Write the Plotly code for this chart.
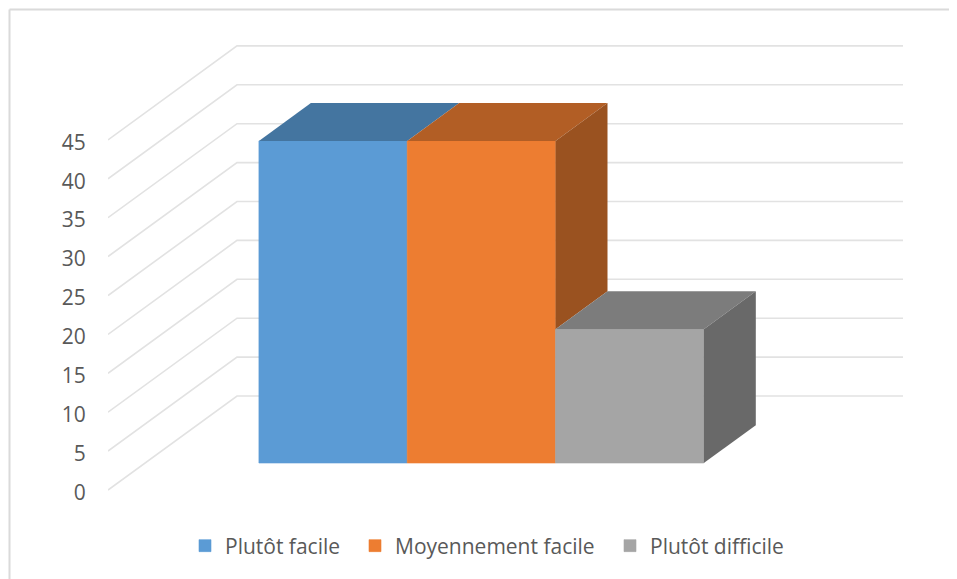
import plotly.graph_objects as go

categories = ["Plutôt facile", "Moyennement facile", "Plutôt difficile"]
values = [41.4, 41.4, 17.2]
front_colors = ["#5B9BD5", "#ED7D31", "#A5A5A5"]
top_colors = ["#4475A0", "#B25E25", "#7C7C7C"]
side_colors = ["#335A80", "#9A5220", "#696969"]
tick_values = [0, 5, 10, 15, 20, 25, 30, 35, 40, 45]

# Oblique projection of the 3D box: depth (0 front .. 1 back)
PX_W, PX_H = 795, 453           # plot area in pixels
PX_BELOW_ZERO = 8               # plot area below value 0
BAR_UNIT = 148.3                # pixels per category
VAL_UNIT = 7.78                 # pixels per value unit
XMAX = PX_W / BAR_UNIT
YMIN = -PX_BELOW_ZERO / VAL_UNIT
YMAX = YMIN + PX_H / VAL_UNIT
DX = 129 / BAR_UNIT
DY = 94 / VAL_UNIT
D0, D1 = 0.287, 0.69            # bar's front and back depth
X_START = 0.768
PAGE_OFFSET = 8                 # browser's default body margin
LABEL_SHIFT = 2.4 / VAL_UNIT    # tick labels sit slightly below the wall lines


def proj(x, v, d):
    return x + d * DX, v + d * DY


fig = go.Figure()

# empty trace that keeps the tick-label axis alive
fig.add_trace(go.Scatter(x=[None], y=[None], mode="lines", hoverinfo="skip", showlegend=False,
                         xaxis="x", yaxis="y"))

# gridlines on the side wall and back wall
gx, gy = [], []
for t in tick_values:
    a = proj(0, t, 0)
    b = proj(0, t, 1)
    gx += [a[0], b[0], XMAX, None]
    gy += [a[1], b[1], b[1], None]
fig.add_trace(go.Scatter(x=gx, y=gy, mode="lines", line=dict(color="#E2E2E2", width=1.6),
                         hoverinfo="skip", showlegend=False, xaxis="x2", yaxis="y2"))

legend_ids = ["legend", "legend2", "legend3"]
for i, (c, v) in enumerate(zip(categories, values)):
    x0, x1 = X_START + i, X_START + i + 1
    fx0 = proj(x0, 0, D0)[0]
    base = proj(x0, 0, D0)[1]
    fig.add_trace(go.Bar(x=[fx0 + 0.5], y=[v], base=[base], width=[1], name=c,
                         marker=dict(color=front_colors[i], line=dict(width=0.6, color=front_colors[i])),
                         xaxis="x3", yaxis="y3", legend=legend_ids[i]))
    # top face
    pts = [proj(x0, v, D0), proj(x1, v, D0), proj(x1, v, D1), proj(x0, v, D1), proj(x0, v, D0)]
    fig.add_trace(go.Scatter(x=[p[0] for p in pts], y=[p[1] for p in pts], mode="lines",
                             fill="toself", fillcolor=top_colors[i], line=dict(width=0),
                             hoverinfo="skip", showlegend=False, xaxis="x3", yaxis="y3"))
    # exposed part of the right side face
    next_v = values[i + 1] if i + 1 < len(values) else 0
    if next_v < v:
        pts = [proj(x1, next_v, D0), proj(x1, v, D0), proj(x1, v, D1), proj(x1, next_v, D1), proj(x1, next_v, D0)]
        fig.add_trace(go.Scatter(x=[p[0] for p in pts], y=[p[1] for p in pts], mode="lines",
                                 fill="toself", fillcolor=side_colors[i], line=dict(width=0),
                                 hoverinfo="skip", showlegend=False, xaxis="x3", yaxis="y3"))

L, T = 108 - PAGE_OFFSET, 45 - PAGE_OFFSET
FIG_W, FIG_H = 957 - PAGE_OFFSET, 579 - PAGE_OFFSET


def paper_x(page_px):
    return (page_px - PAGE_OFFSET - L) / PX_W


def paper_y(page_py):
    return (T + PAGE_OFFSET + PX_H - page_py) / PX_H


def legend_at(page_px):
    return dict(orientation="h", x=paper_x(page_px), xanchor="left", y=paper_y(546), yanchor="middle",
                bgcolor="rgba(0,0,0,0)", font=dict(family="Open Sans", size=21, color="#595959"),
                itemclick=False, itemdoubleclick=False)


hidden = dict(visible=False, fixedrange=True)
fig.update_layout(
    width=FIG_W, height=FIG_H, autosize=False, showlegend=True,
    margin=dict(l=L, r=FIG_W - L - PX_W, t=T, b=FIG_H - T - PX_H),
    paper_bgcolor="white", plot_bgcolor="white", barmode="overlay",
    xaxis=dict(range=[0, XMAX], **hidden),
    yaxis=dict(range=[YMIN + LABEL_SHIFT, YMAX + LABEL_SHIFT], tickmode="array", tickvals=tick_values, showgrid=False,
               zeroline=False, showline=False, ticks="outside", ticklen=17, tickcolor="rgba(0,0,0,0)",
               tickfont=dict(family="Open Sans", size=21, color="#595959"), fixedrange=True),
    xaxis2=dict(range=[0, XMAX], overlaying="x", **hidden),
    yaxis2=dict(range=[YMIN, YMAX], overlaying="y", **hidden),
    xaxis3=dict(range=[0, XMAX], overlaying="x", **hidden),
    yaxis3=dict(range=[YMIN, YMAX], overlaying="y", **hidden),
    legend=legend_at(185),
    legend2=legend_at(355),
    legend3=legend_at(610),
    shapes=[
        dict(type="line", xref="paper", yref="paper", x0=paper_x(9.5), x1=paper_x(957), y0=paper_y(9.5), y1=paper_y(9.5),
             line=dict(color="#DADADA", width=2)),
        dict(type="line", xref="paper", yref="paper", x0=paper_x(9.5), x1=paper_x(9.5), y0=paper_y(9.5), y1=paper_y(579),
             line=dict(color="#DADADA", width=2)),
    ],
)
fig.write_html("out.html")
